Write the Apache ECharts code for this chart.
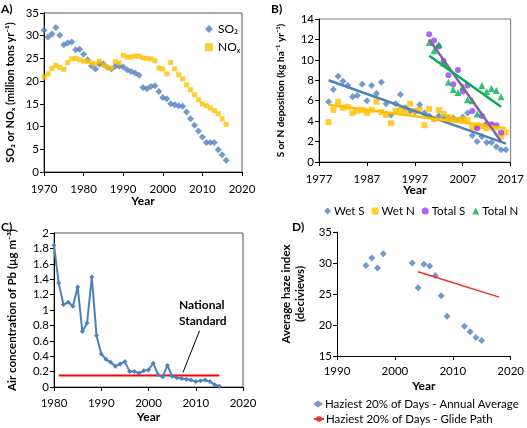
<!DOCTYPE html>
<html><head><meta charset="utf-8">
<script src="https://cdn.jsdelivr.net/npm/echarts@6/dist/echarts.min.js"></script>
<style>html,body{margin:0;padding:0;background:#fff;overflow:hidden}#wrap{position:relative;width:527px;height:428px}.c{position:absolute;left:0;top:0;width:527px;height:428px}</style>
</head><body><div id="wrap"><div class="c" id="cA"></div><div class="c" id="cB"></div><div class="c" id="cC"></div><div class="c" id="cD"></div></div>
<script>
// ---------- Panel A: SO2 / NOx emissions ----------
const yearsA = [];
for (let y = 1970; y <= 2016; y++) yearsA.push(y);
const so2 = [31.2,29.7,30.4,31.8,30.1,28.0,28.4,28.6,26.9,27.0,
             25.9,24.7,23.4,22.7,23.8,23.8,23.0,22.7,23.3,23.3,
             23.1,22.5,22.1,21.8,21.3,18.6,18.3,18.8,19.0,17.7,
             16.4,16.1,15.0,14.8,14.6,14.5,13.2,11.7,10.3,9.0,
             7.7,6.5,6.5,6.5,4.9,3.8,2.6];
const nox = [20.9,21.6,22.8,23.5,23.0,22.6,24.1,24.9,25.0,24.7,
             24.4,24.4,24.0,23.8,24.4,23.5,23.0,22.8,24.3,24.0,
             25.7,25.3,25.3,25.5,25.5,25.1,25.0,24.9,24.5,22.9,
             22.7,21.6,24.1,22.7,21.4,20.5,19.2,18.1,17.0,15.9,
             15.0,14.6,14.1,13.5,12.8,11.7,10.5];

// ---------- Panel B: deposition ----------
const yearsWet = [];
for (let y = 1979; y <= 2016; y++) yearsWet.push(y);
const wetS = [5.9,7.1,8.4,7.9,7.5,6.4,6.5,7.6,6.0,7.5,
              6.7,7.8,5.7,4.6,5.7,6.6,5.3,5.0,4.9,5.6,
              4.8,4.5,4.2,4.5,4.4,4.3,4.3,4.1,4.4,4.8,
              2.6,2.0,2.5,1.9,1.9,1.5,1.2,1.2];
const wetN = [3.9,5.1,5.9,5.3,5.4,4.8,5.0,5.1,4.8,5.1,
              5.9,4.9,4.6,3.8,5.0,5.1,4.9,5.7,5.0,5.1,
              3.6,5.2,4.2,5.1,4.7,4.4,4.2,4.1,4.2,4.1,
              3.4,3.6,3.5,3.3,3.5,3.4,2.5,2.9];
const yearsTot = [];
for (let y = 2000; y <= 2015; y++) yearsTot.push(y);
const totS = [12.5,11.9,11.3,9.9,8.5,7.6,9.0,6.9,7.5,5.0,3.3,4.5,3.7,3.7,3.6,2.9];
const totN = [11.7,10.9,11.5,9.7,7.8,7.1,6.8,7.4,6.1,6.0,4.7,7.5,6.9,7.2,7.0,6.4];
const trendWetS = [[1979,8.0],[2016,1.8]];
const trendWetN = [[1979,5.6],[2016,3.3]];
const trendTotS = [[2000,12.0],[2015,2.0]];
const trendTotN = [[2000,10.4],[2015,5.4]];

// ---------- Panel C: Pb ----------
const yearsPb = [];
for (let y = 1980; y <= 2015; y++) yearsPb.push(y);
const pb = [1.84,1.35,1.07,1.10,1.05,1.30,0.72,0.83,1.43,0.67,
            0.43,0.36,0.32,0.27,0.30,0.33,0.20,0.20,0.18,0.21,
            0.22,0.31,0.16,0.13,0.28,0.14,0.12,0.11,0.10,0.09,
            0.07,0.08,0.09,0.07,0.03,0.01];
const pbStandard = [[1981,0.15],[2015,0.15]];
const arrowFrom = [2010.8,0.73], arrowTo = [2007.3,0.19];

// ---------- Panel D: haze ----------
const yearsHaze = [1995,1996,1997,1998,2003,2004,2005,2006,2007,2008,2009,2012,2013,2014,2015];
const haze = [29.6,30.8,29.2,31.5,30.0,26.0,29.8,29.5,28.0,24.7,21.4,19.8,18.9,18.0,17.5];
const glide = [[2004,28.6],[2018,24.5]];

const zip = (xs, ys) => xs.map((x,i)=>[x,ys[i]]);
const FONT = 'Lato';
const BLUE = '#4F81BD', GOLD = '#FFC000', PURP = '#9B3DF0', PURPL = '#8064A2', GREEN = '#00B050', RED = '#FF0000';

function xAx(min, max, interval, gap, margin) {
  return {type:'value', gridIndex:0, min, max, interval,
    name:'Year', nameLocation:'middle', nameGap:gap, nameMoveOverlap:false,
    nameTextStyle:{fontWeight:'bold', fontSize:12, color:'#000', fontFamily:FONT},
    axisLine:{lineStyle:{color:'#000'}}, axisTick:{length:4, lineStyle:{color:'#000'}},
    splitLine:{show:false},
    axisLabel:{color:'#000', fontSize:11.5, margin, fontFamily:FONT, formatter:v=>String(v)}};
}
function yAx(min, max, interval, name, gap, nameSize, fmt) {
  return {type:'value', gridIndex:0, min, max, interval, position:'left',
    name, nameLocation:'middle', nameGap:gap, nameMoveOverlap:false,
    nameTextStyle:{fontWeight:'bold', fontSize:nameSize, color:'#000', fontFamily:FONT, lineHeight:14},
    axisLine:{show:true, lineStyle:{color:'#000'}}, axisTick:{show:true, length:4, lineStyle:{color:'#000'}},
    splitLine:{show:false},
    axisLabel:{show:true, color:'#000', fontSize:11.5, margin:5, fontFamily:FONT, formatter: fmt || (v=>String(v))}};
}
const panelLabel = (t, left, top) => ({type:'text', left, top, style:{text:t, font:'bold 12px '+FONT, fill:'#000'}});
const legText = {fontSize:11.5, color:'#000', fontFamily:FONT, padding:[0,0,0,-3]};

const optA = {
  animation:false, textStyle:{fontFamily:FONT},
  grid:{left:44, top:13, width:198, height:159, show:true, borderColor:'#555', borderWidth:1},
  xAxis:xAx(1970,2020,10,23,11),
  yAxis:yAx(0,35,5,'SO₂ or NOₓ (million tons yr⁻¹)',27,11),
  legend:{orient:'vertical', left:200, top:18, itemGap:6, itemWidth:8, itemHeight:8,
    textStyle:{fontSize:12, color:'#000', fontFamily:FONT},
    data:[{name:'SO₂', icon:'diamond'},{name:'NOₓ', icon:'rect'}]},
  graphic:[panelLabel('A)',1,3)],
  series:[
    {name:'SO₂', type:'scatter', symbol:'diamond', symbolSize:7, itemStyle:{color:BLUE}, data:zip(yearsA,so2)},
    {name:'NOₓ', type:'scatter', symbol:'rect', symbolSize:5, itemStyle:{color:GOLD}, data:zip(yearsA,nox)}
  ]
};

const optB = {
  animation:false, textStyle:{fontFamily:FONT},
  grid:{left:319, top:19, width:192, height:143, show:true, borderColor:'#777', borderWidth:1},
  xAxis:xAx(1977,2017,10,22,11),
  yAxis:yAx(0,14,2,'S or N deposition (kg ha⁻¹ yr⁻¹)',31,10),
  legend:{orient:'horizontal', left:319, top:200, width:220, itemGap:7, itemWidth:7, itemHeight:7,
    textStyle:{fontSize:11.5, color:'#000', fontFamily:FONT, padding:[0,0,0,-2]},
    data:[{name:'Wet S', icon:'diamond'},{name:'Wet N', icon:'rect'},{name:'Total S', icon:'circle'},{name:'Total N', icon:'triangle'}]},
  graphic:[panelLabel('B)',271,3)],
  series:[
    {name:'Wet S', type:'scatter', symbol:'diamond', symbolSize:7, itemStyle:{color:BLUE}, data:zip(yearsWet,wetS)},
    {name:'Wet N', type:'scatter', symbol:'rect', symbolSize:6, itemStyle:{color:GOLD}, data:zip(yearsWet,wetN)},
    {name:'Total S', type:'scatter', symbol:'circle', symbolSize:6, itemStyle:{color:PURP}, data:zip(yearsTot,totS)},
    {name:'Total N', type:'scatter', symbol:'triangle', symbolSize:7, itemStyle:{color:GREEN}, data:zip(yearsTot,totN)},
    {name:'tWS', type:'line', symbol:'none', lineStyle:{color:BLUE, width:2.5}, data:trendWetS, z:3},
    {name:'tWN', type:'line', symbol:'none', lineStyle:{color:GOLD, width:2.5}, data:trendWetN, z:3},
    {name:'tTS', type:'line', symbol:'none', lineStyle:{color:PURPL, width:2.5}, data:trendTotS, z:3},
    {name:'tTN', type:'line', symbol:'none', lineStyle:{color:GREEN, width:2.5}, data:trendTotN, z:3}
  ]
};

const optC = {
  animation:false, textStyle:{fontFamily:FONT},
  grid:{left:54, top:233, width:189, height:154, show:true, borderColor:'#555', borderWidth:1},
  xAxis:xAx(1980,2020,10,24,10),
  yAxis:yAx(0,2,0.2,'Air concentration of Pb (µg m⁻³)',35,11.5, v=>String(Math.round(v*10)/10)),
  graphic:[panelLabel('C)',1,221),
    {type:'text', left:179, top:297, style:{text:'National\nStandard', font:'bold 12px '+FONT, fill:'#000', lineHeight:16, align:'center'}}],
  series:[
    {name:'Pb', type:'line', symbol:'diamond', symbolSize:5, showAllSymbol:true,
     lineStyle:{color:BLUE, width:2}, itemStyle:{color:BLUE}, data:zip(yearsPb,pb),
     markLine:{silent:true, symbol:['none','arrow'], symbolSize:[0,8], lineStyle:{color:'#000', width:1, type:'solid'}, label:{show:false},
       data:[[{coord:arrowFrom},{coord:arrowTo}]]}},
    {name:'Standard', type:'line', symbol:'none', lineStyle:{color:RED, width:2}, data:pbStandard, z:1}
  ]
};

const optD = {
  animation:false, textStyle:{fontFamily:FONT},
  grid:{left:337, top:232, width:174, height:124, show:false},
  xAxis:xAx(1990,2020,10,24,9),
  yAxis:yAx(15,35,5,'Average haze index\n(deciviews)',30,11.5),
  legend:[
    {left:313, top:398, itemWidth:10, itemHeight:7, padding:0, textStyle:legText,
     data:[{name:'Haziest 20% of Days - Annual Average', icon:'diamond'}]},
    {left:313, top:413, itemWidth:10, itemHeight:7, padding:0, textStyle:legText,
     data:[{name:'Haziest 20% of Days - Glide Path'}]}
  ],
  graphic:[panelLabel('D)',292,221)],
  series:[
    {name:'Haziest 20% of Days - Annual Average', type:'scatter', symbol:'diamond', symbolSize:7, itemStyle:{color:BLUE}, data:zip(yearsHaze,haze)},
    {name:'Haziest 20% of Days - Glide Path', type:'line', symbol:'none', lineStyle:{color:'#E8302C', width:1.5}, itemStyle:{color:'#E8302C'}, data:glide}
  ]
};

[['cA',optA],['cB',optB],['cC',optC],['cD',optD]].forEach(([id,opt]) => {
  const ch = echarts.init(document.getElementById(id), null, {renderer:'canvas'});
  ch.setOption(opt);
});
</script></body></html>
